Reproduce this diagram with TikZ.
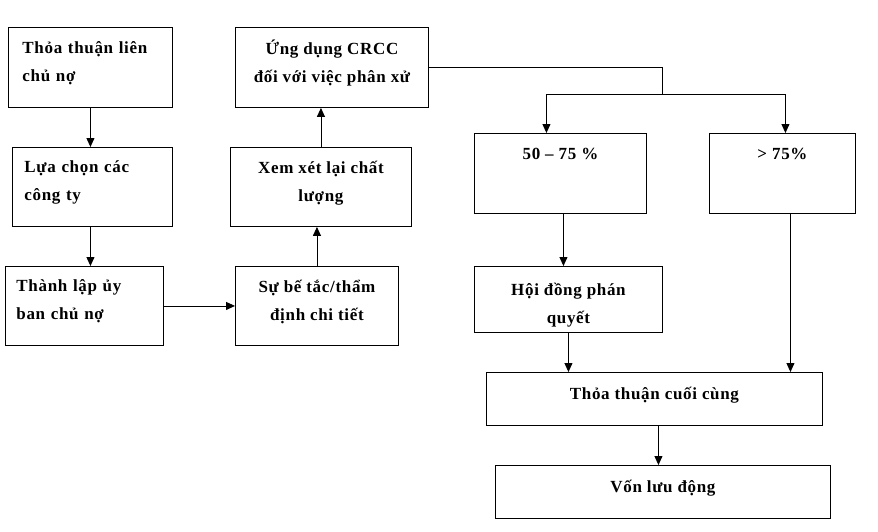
\documentclass[tikz,border=0pt]{standalone}
\usepackage{fontspec}
\setmainfont{Liberation Serif}[LetterSpace=4]
\usepackage{tikz}
\usetikzlibrary{arrows.meta,calc,positioning}

\tikzset{
  khung/.style={draw, line width=0.9pt, anchor=north west, align=center,
    inner xsep=11pt, inner ysep=0pt, font=\fontsize{17}{28}\selectfont\bfseries},
  box/.style={khung, execute at end node={\rule[-12pt]{0pt}{0pt}}},
  lbox/.style={box, align=left, text width=136pt},
  arr/.style={line width=0.9pt, -{Triangle[length=9pt,width=8pt]}},
  ln/.style={line width=0.9pt}
}

\begin{document}
\begin{tikzpicture}[x=1pt, y=-1pt]
  \useasboundingbox (0,0) rectangle (878,531);

  % 左列
  \node[lbox, minimum width=164pt, minimum height=80pt] (thoathuan) at (8,27) {Thỏa thuận liên\\chủ nợ};
  \node[lbox, minimum width=160pt, minimum height=79pt] (luachon) at (12,147) {Lựa chọn các\\công ty};
  \node[lbox, minimum width=158pt, minimum height=79pt] (thanhlap) at (5,266) {Thành lập ủy\\ban chủ nợ};

  % 中列
  \node[box, minimum width=163pt, minimum height=79pt] (betac) at (235,266) {Sự bế tắc/thẩm\\định chi tiết};
  \node[box, minimum width=181pt, minimum height=79pt] (xemxet) at (230,147) {Xem xét lại chất\\lượng};
  \node[box, minimum width=193pt, minimum height=80pt] (ungdung) at (235,27) {Ứng dụng CRCC\\đối với việc phân xử};

  % 右列
  \node[box, minimum width=172pt, minimum height=80pt] (muc50) at (474,133) {50 – 75 \%\\~};
  \node[box, minimum width=146pt, minimum height=80pt] (muc75) at (709,133) {> 75\%\\~};
  \node[khung, minimum width=188pt, minimum height=66pt] (hoidong) at (474,266) {\rule{0pt}{23pt}Hội đồng phán\\quyết};
  \node[box, minimum width=336pt, minimum height=53pt] (cuoicung) at (486,372) {Thỏa thuận cuối cùng};
  \node[box, minimum width=335pt, minimum height=53pt] (von) at (495,465) {Vốn lưu động};

  % 连线
  \draw[arr] (thoathuan.south) -- (thoathuan.south |- luachon.north);
  \draw[arr] (thoathuan.south |- luachon.south) -- (thoathuan.south |- thanhlap.north);
  \draw[arr] (thanhlap.east) -- (thanhlap.east -| betac.west);
  \draw[arr] (betac.north) -- (betac.north |- xemxet.south);
  \draw[arr] (xemxet.north) -- (xemxet.north |- ungdung.south);

  % 分支
  \coordinate (re) at (662,94);
  \draw[ln] (ungdung.east) -| (re);
  \draw[arr] (re) -| ([xshift=-14pt]muc50.north);
  \draw[arr] (re) -| ([xshift=3pt]muc75.north);
  \draw[arr] ([xshift=3pt]muc50.south) -- ([xshift=3pt]muc50.south |- hoidong.north);
  \draw[arr] (hoidong.south) -- (hoidong.south |- cuoicung.north);
  \draw[arr] ([xshift=8pt]muc75.south) -- ([xshift=8pt]muc75.south |- cuoicung.north);
  \draw[arr] ([xshift=4pt]cuoicung.south) -- ([xshift=4pt]cuoicung.south |- von.north);
\end{tikzpicture}
\end{document}
